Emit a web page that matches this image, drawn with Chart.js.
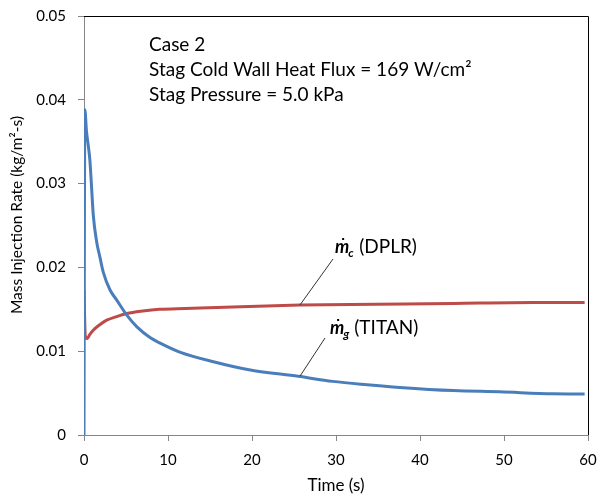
<!DOCTYPE html>
<html>
<head>
<meta charset="utf-8">
<script src="https://cdn.jsdelivr.net/npm/chart.js@4/dist/chart.umd.min.js"></script>
<style>
  html, body { margin: 0; padding: 0; background: #fff; }
  #wrap { width: 597px; height: 500px; }
</style>
</head>
<body>
<div id="wrap"><canvas id="chart"></canvas></div>
<script>
// time (s) and mass injection rate (kg/m2-s)
const titanTime = [0, 0.1, 0.3, 0.5, 0.7, 0.9, 1.1, 1.5, 1.9, 2.3, 3.1, 3.9, 5.1, 6.3, 7.9, 9.0, 11.4, 15.4, 19.8, 25.5, 29.6, 33.7, 37.6, 44, 49.5, 55.8, 59.6]
const titanRate = [0, 0.0388, 0.0362, 0.0346, 0.0328, 0.0296, 0.0263, 0.0231, 0.0212, 0.0194, 0.0173, 0.0161, 0.0143, 0.0129, 0.0116, 0.0110, 0.0099, 0.00875, 0.00776, 0.00700, 0.00640, 0.00600, 0.00568, 0.00530, 0.00515, 0.00492, 0.00490]

const dplrTime = [0, 0.15, 0.35, 0.7, 1.1, 1.8, 2.7, 3.8, 5.1, 7, 9, 12, 15.8, 21.7, 25.7, 34.8, 44, 53.5, 59.6]
const dplrRate = [0.0173, 0.0118, 0.0115, 0.0120, 0.0125, 0.0131, 0.0137, 0.0141, 0.0145, 0.0148, 0.0150, 0.0151, 0.0152, 0.0154, 0.0155, 0.0156, 0.0157, 0.0158, 0.0158]

const yTicks = [0, 0.01, 0.02, 0.03, 0.04, 0.05]
const xTicks = [0, 10, 20, 30, 40, 50, 60]

const colors = {
  titan: '#4a7ebb',
  dplr: '#be4b48',
  axis: '#868686',
  text: '#000000'
}

const font = 'Lato, "Open Sans", sans-serif'

const toPoints = (xs, ys) => xs.map((x, i) => ({ x, y: ys[i] }))

const notes = {
  id: 'notes',
  afterDraw(chart) {
    const { ctx, chartArea: a, scales: { x, y } } = chart
    ctx.save()
    // frame top + right
    ctx.strokeStyle = '#000'
    ctx.lineWidth = 1
    ctx.beginPath()
    ctx.moveTo(a.left, a.top + 0.5)
    ctx.lineTo(a.right + 0.5, a.top + 0.5)
    ctx.lineTo(a.right + 0.5, a.bottom)
    ctx.stroke()

    ctx.fillStyle = colors.text
    ctx.textBaseline = 'middle'

    // axis titles
    ctx.textAlign = 'center'
    ctx.font = '17px ' + font
    ctx.fillText('Time (s)', 336, 486)
    ctx.save()
    ctx.translate(17, 215)
    ctx.rotate(-Math.PI / 2)
    ctx.font = '15.5px ' + font
    ctx.fillText('Mass Injection Rate (kg/m²-s)', 0, 0)
    ctx.restore()

    ctx.textAlign = 'left'
    ctx.font = '19px ' + font
    ctx.fillText('Case 2', 149, 45)
    ctx.fillText('Stag Cold Wall Heat Flux = 169 W/cm²', 149, 70)
    ctx.fillText('Stag Pressure = 5.0 kPa', 149, 95)

    // leader lines
    ctx.strokeStyle = '#333'
    ctx.beginPath()
    ctx.moveTo(x.getPixelForValue(25.7), y.getPixelForValue(0.0155))
    ctx.lineTo(333, 259)
    ctx.moveTo(x.getPixelForValue(25.7), y.getPixelForValue(0.0070))
    ctx.lineTo(325, 338)
    ctx.stroke()

    const mdot = (px, py, sub, label) => {
      ctx.textBaseline = 'alphabetic'
      ctx.font = 'bold italic 18px ' + font
      ctx.fillText('m', px, py)
      const mw = ctx.measureText('m').width
      ctx.fillRect(px + mw / 2, py - 15, 2, 2)
      ctx.font = 'bold italic 12px ' + font
      ctx.fillText(sub, px + mw - 1, py + 4)
      ctx.font = '19px ' + font
      ctx.fillText(label, px + mw + 10, py)
    }
    mdot(335, 253, 'c', '(DPLR)')
    mdot(330, 334, 'g', '(TITAN)')
    ctx.restore()
  }
}

new Chart(document.getElementById('chart'), {
  type: 'line',
  data: {
    datasets: [
      {
        label: 'mg (TITAN)',
        data: toPoints(titanTime, titanRate),
        borderColor: colors.titan,
        borderWidth: 3,
        pointRadius: 0,
        cubicInterpolationMode: 'monotone'
      },
      {
        label: 'mc (DPLR)',
        data: toPoints(dplrTime, dplrRate),
        borderColor: colors.dplr,
        borderWidth: 3,
        pointRadius: 0,
        cubicInterpolationMode: 'monotone'
      }
    ]
  },
  options: {
    responsive: true,
    maintainAspectRatio: false,
    animation: false,
    layout: { padding: { top: 16, right: 9, left: 0, bottom: 0 } },
    plugins: { legend: { display: false }, tooltip: { enabled: false } },
    scales: {
      x: {
        type: 'linear',
        min: 0,
        max: 60,
        afterBuildTicks: s => { s.ticks = xTicks.map(v => ({ value: v })) },
        afterFit: s => { s.height = 65; s.paddingLeft = 0; s.paddingRight = 0 },
        grid: { drawOnChartArea: false, color: colors.axis, tickLength: 6 },
        border: { color: colors.axis },
        ticks: { color: colors.text, font: { family: font, size: 15 }, padding: 10, maxRotation: 0 }
      },
      y: {
        min: 0,
        max: 0.05,
        afterBuildTicks: s => { s.ticks = yTicks.map(v => ({ value: v })) },
        afterFit: s => { s.width = 84; s.paddingTop = 0; s.paddingBottom = 0 },
        grid: { drawOnChartArea: false, color: colors.axis, tickLength: 6 },
        border: { color: colors.axis },
        ticks: { color: colors.text, font: { family: font, size: 15 }, padding: 12, callback: v => String(+v.toFixed(2)) }
      }
    }
  },
  plugins: [notes]
})
</script>
</body>
</html>
